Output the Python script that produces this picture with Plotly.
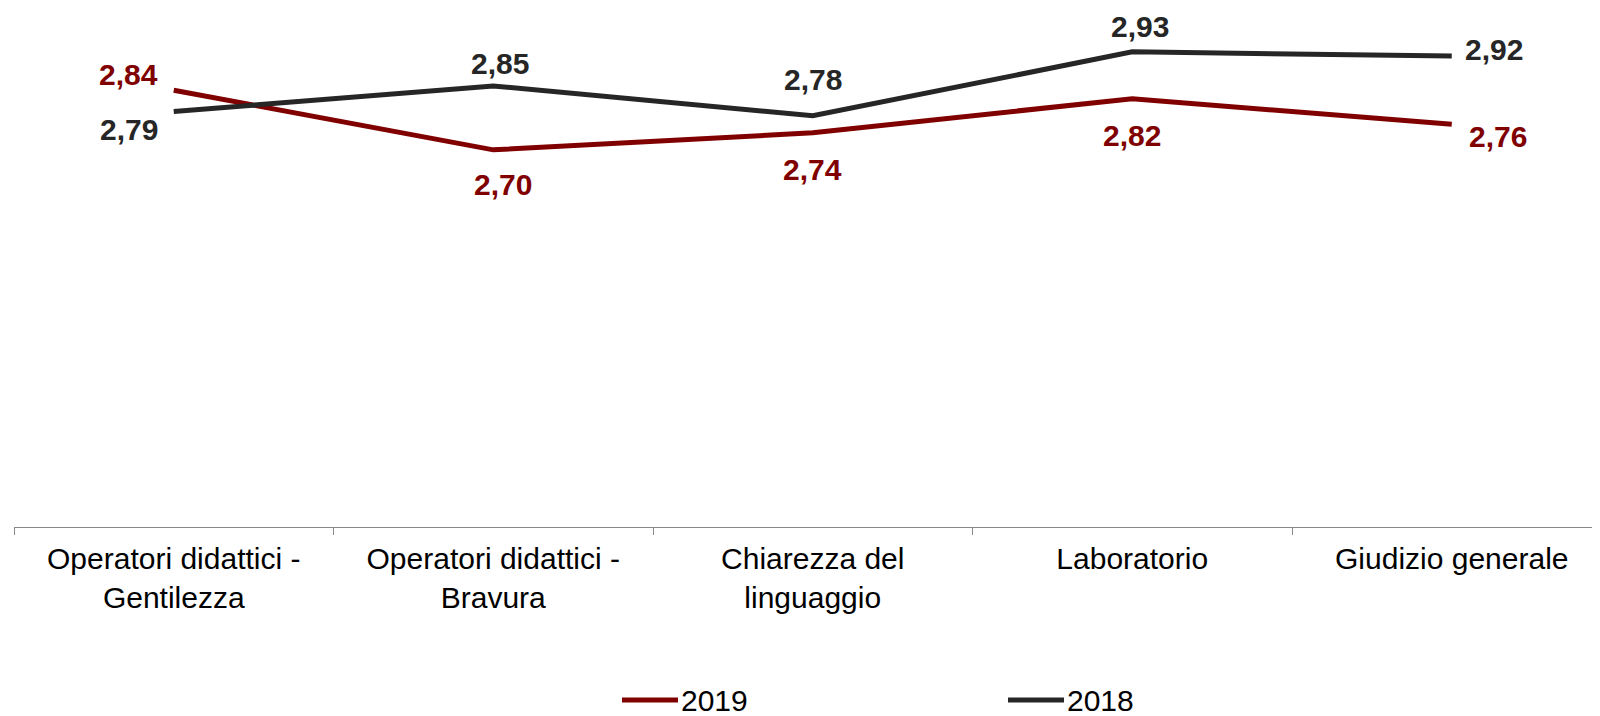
import plotly.graph_objects as go

# data
categories = [
    "Operatori didattici -<br>Gentilezza",
    "Operatori didattici -<br>Bravura",
    "Chiarezza del<br>linguaggio",
    "Laboratorio",
    "Giudizio generale",
]
values_2019 = [2.84, 2.70, 2.74, 2.82, 2.76]
values_2018 = [2.79, 2.85, 2.78, 2.93, 2.92]

RED = "#800000"
DARK = "#262626"
FONT = "Liberation Sans, Arial, sans-serif"

# label offsets (px) from each point, per series
offsets_2019 = [(-45, 16), (10, -35), (0, -37), (0, -37), (46, -12)]
offsets_2018 = [(-45, -18), (7, 22), (0, 36), (8, 25), (42, 7)]

# figure size; the page body adds an 8px margin, so window coords = fig coords + 8
W, H = 1600, 716
PAGE = 8
# plot area wanted in window pixels: left 14, top 22, bottom 527, right 1600
ML, MT = 14 - PAGE, 22 - PAGE
MB = H - (527 - PAGE)
MR = PAGE
LEGEND_Y = 700


def px_x(x):
    # window pixel -> paper fraction
    return (x - PAGE - ML) / (W - ML - MR)


def px_y(y):
    return (H - MB - (y - PAGE)) / (H - MT - MB)


def fmt(v):
    return f"{v:.2f}".replace(".", ",")


fig = go.Figure()

for name, vals, color, offs in [
    ("2019", values_2019, RED, offsets_2019),
    ("2018", values_2018, DARK, offsets_2018),
]:
    fig.add_trace(
        go.Scatter(
            x=categories,
            y=vals,
            name=name,
            mode="lines",
            line=dict(color=color, width=5),
            hoverinfo="skip",
        )
    )
    for cat, v, (dx, dy) in zip(categories, vals, offs):
        fig.add_annotation(
            x=cat,
            y=v,
            text=fmt(v),
            showarrow=False,
            xshift=dx,
            yshift=dy,
            font=dict(family=FONT, size=30, color=color, weight="bold"),
        )

# legend drawn by hand so the sample lines can be long like the original
legend_items = [("2019", RED, 622), ("2018", DARK, 1008)]
for name, color, x0 in legend_items:
    fig.add_shape(
        type="line",
        xref="paper",
        yref="paper",
        x0=px_x(x0),
        x1=px_x(x0 + 56),
        y0=px_y(LEGEND_Y),
        y1=px_y(LEGEND_Y),
        line=dict(color=color, width=5),
    )
    fig.add_annotation(
        xref="paper",
        yref="paper",
        x=px_x(x0 + 57),
        y=px_y(LEGEND_Y),
        xanchor="left",
        yanchor="middle",
        text=name,
        showarrow=False,
        font=dict(family=FONT, size=30, color="black"),
    )

fig.update_layout(
    width=W,
    height=H,
    margin=dict(l=ML, r=MR, t=MT, b=MB, autoexpand=False),
    paper_bgcolor="white",
    plot_bgcolor="white",
    font=dict(family=FONT, size=30, color="black"),
    showlegend=False,
)

fig.update_xaxes(
    range=[-0.5, -0.5 + (W - ML - MR) / 319.5],
    showgrid=False,
    showline=True,
    linecolor="#898989",
    linewidth=1,
    ticks="outside",
    tickson="boundaries",
    ticklen=7,
    tickcolor="#898989",
    tickfont=dict(size=30, color="black"),
    ticklabelstandoff=5,
    automargin=False,
    fixedrange=True,
)
fig.update_yaxes(
    range=[1.815, 3.0],
    visible=False,
    fixedrange=True,
)

fig.write_html("out.html")
